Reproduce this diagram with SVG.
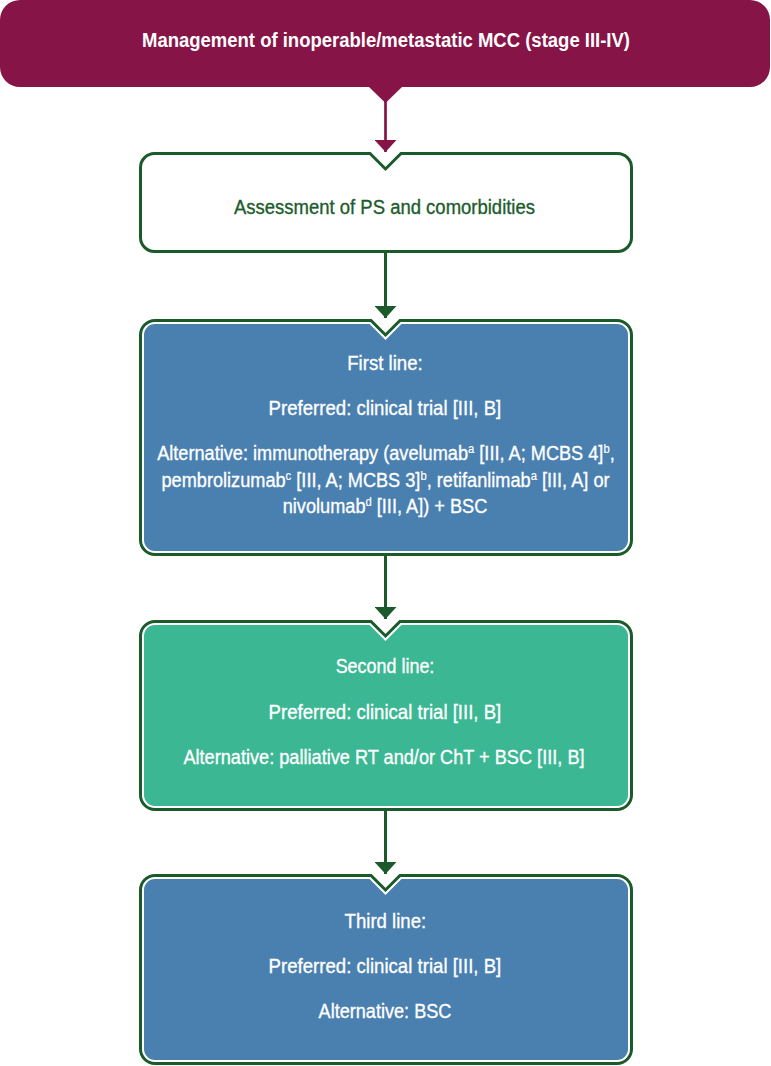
<svg xmlns="http://www.w3.org/2000/svg" width="771" height="1066" viewBox="0 0 771 1066">
<style>
.t{font-family:"Liberation Sans",Arial,sans-serif;font-size:21px;fill:#ffffff;stroke:#ffffff;stroke-width:0.35;text-anchor:middle}
.title{font-weight:bold;font-size:20px;stroke:none;text-anchor:start}
.assess{fill:#1d5c2c;stroke:#1d5c2c;font-size:20px;text-anchor:start}
.sup{font-size:13px;stroke-width:0.2}
.outer{fill:none;stroke:#1b5a2b;stroke-width:8;stroke-linejoin:miter}
.inner{stroke:#ffffff;stroke-width:2}
.blue{fill:#4a80b0}
.teal{fill:#3bb794}
.conn{fill:none;stroke:#1b5a2b;stroke-width:3}
.connm{fill:none;stroke:#861447;stroke-width:2.7}
</style>
<defs>
<marker id="ah" markerUnits="userSpaceOnUse" viewBox="0 0 22 12" refX="11" refY="12" markerWidth="22" markerHeight="12" orient="0">
<path d="M0 0 L22 0 L11 12 Z" fill="#1b5a2b"/>
</marker>
<marker id="ahm" markerUnits="userSpaceOnUse" viewBox="0 0 22 12" refX="11" refY="12" markerWidth="22" markerHeight="12" orient="0">
<path d="M0 0 L22 0 L11 12 Z" fill="#861447"/>
</marker>
</defs>

<g id="connectors">
<line class="connm" x1="385.5" y1="100" x2="385.5" y2="152" marker-end="url(#ahm)"/>
<line class="conn" x1="385.5" y1="253" x2="385.5" y2="318" marker-end="url(#ah)"/>
<line class="conn" x1="385.5" y1="556" x2="385.5" y2="619" marker-end="url(#ah)"/>
<line class="conn" x1="385.5" y1="811" x2="385.5" y2="874" marker-end="url(#ah)"/>
</g>

<g id="node-title">
<path d="M20 0 H750 A20 20 0 0 1 770 20 V67 A20 20 0 0 1 750 87 H402 L385.5 103 L369 87 H20 A20 20 0 0 1 0 67 V20 A20 20 0 0 1 20 0 Z" fill="#861447"/>
<text class="t title" x="142" y="47" textLength="488" lengthAdjust="spacingAndGlyphs">Management of inoperable/metastatic MCC (stage III-IV)</text>
</g>

<g id="node-assessment">
<path d="M154.5 153.5 H370 L385.5 169 L401 153.5 H617.5 A14 14 0 0 1 631.5 167.5 V237.5 A14 14 0 0 1 617.5 251.5 H154.5 A14 14 0 0 1 140.5 237.5 V167.5 A14 14 0 0 1 154.5 153.5 Z" fill="#ffffff" stroke="#1b5a2b" stroke-width="3"/>
<text class="t assess" x="234" y="214" textLength="301" lengthAdjust="spacingAndGlyphs">Assessment of PS and comorbidities</text>
</g>

<g id="node-first-line">
<path class="outer" d="M155 323 H370 L385.5 338.5 L401 323 H617 A12 12 0 0 1 629 335 V540 A12 12 0 0 1 617 552 H155 A12 12 0 0 1 143 540 V335 A12 12 0 0 1 155 323 Z"/>
<path class="blue inner" d="M155 323 H370 L385.5 338.5 L401 323 H617 A12 12 0 0 1 629 335 V540 A12 12 0 0 1 617 552 H155 A12 12 0 0 1 143 540 V335 A12 12 0 0 1 155 323 Z"/>
<g transform="scale(0.887 1)">
<text class="t" x="434" y="370">First line:</text>
<text class="t" x="434" y="415">Preferred: clinical trial [III, B]</text>
</g>
<g transform="scale(0.865 1)">
<text class="t" x="446.2" y="460">Alternative: immunotherapy (avelumab<tspan class="sup" dy="-7">a</tspan><tspan dy="7"> [III, A; MCBS 4]</tspan><tspan class="sup" dy="-7">b</tspan><tspan dy="7">,</tspan></text>
<text class="t" x="445.7" y="487">pembrolizumab<tspan class="sup" dy="-7">c</tspan><tspan dy="7"> [III, A; MCBS 3]</tspan><tspan class="sup" dy="-7">b</tspan><tspan dy="7">, retifanlimab</tspan><tspan class="sup" dy="-7">a</tspan><tspan dy="7"> [III, A] or</tspan></text>
<text class="t" x="445.1" y="513">nivolumab<tspan class="sup" dy="-7">d</tspan><tspan dy="7"> [III, A]) + BSC</tspan></text>
</g>
</g>

<g id="node-second-line">
<path class="outer" d="M155 624 H370 L385.5 639.5 L401 624 H617 A12 12 0 0 1 629 636 V795 A12 12 0 0 1 617 807 H155 A12 12 0 0 1 143 795 V636 A12 12 0 0 1 155 624 Z"/>
<path class="teal inner" d="M155 624 H370 L385.5 639.5 L401 624 H617 A12 12 0 0 1 629 636 V795 A12 12 0 0 1 617 807 H155 A12 12 0 0 1 143 795 V636 A12 12 0 0 1 155 624 Z"/>
<g transform="scale(0.855 1)">
<text class="t" x="450.3" y="673">Second line:</text>
</g>
<g transform="scale(0.887 1)">
<text class="t" x="434" y="719">Preferred: clinical trial [III, B]</text>
</g>
<g transform="scale(0.865 1)">
<text class="t" x="443.9" y="764">Alternative: palliative RT and/or ChT + BSC [III, B]</text>
</g>
</g>

<g id="node-third-line">
<path class="outer" d="M155 878 H370 L385.5 893.5 L401 878 H617 A12 12 0 0 1 629 890 V1049 A12 12 0 0 1 617 1061 H155 A12 12 0 0 1 143 1049 V890 A12 12 0 0 1 155 878 Z"/>
<path class="blue inner" d="M155 878 H370 L385.5 893.5 L401 878 H617 A12 12 0 0 1 629 890 V1049 A12 12 0 0 1 617 1061 H155 A12 12 0 0 1 143 1049 V890 A12 12 0 0 1 155 878 Z"/>
<g transform="scale(0.887 1)">
<text class="t" x="434.5" y="928">Third line:</text>
<text class="t" x="434" y="973">Preferred: clinical trial [III, B]</text>
</g>
<g transform="scale(0.862 1)">
<text class="t" x="446.6" y="1018">Alternative: BSC</text>
</g>
</g>
</svg>
